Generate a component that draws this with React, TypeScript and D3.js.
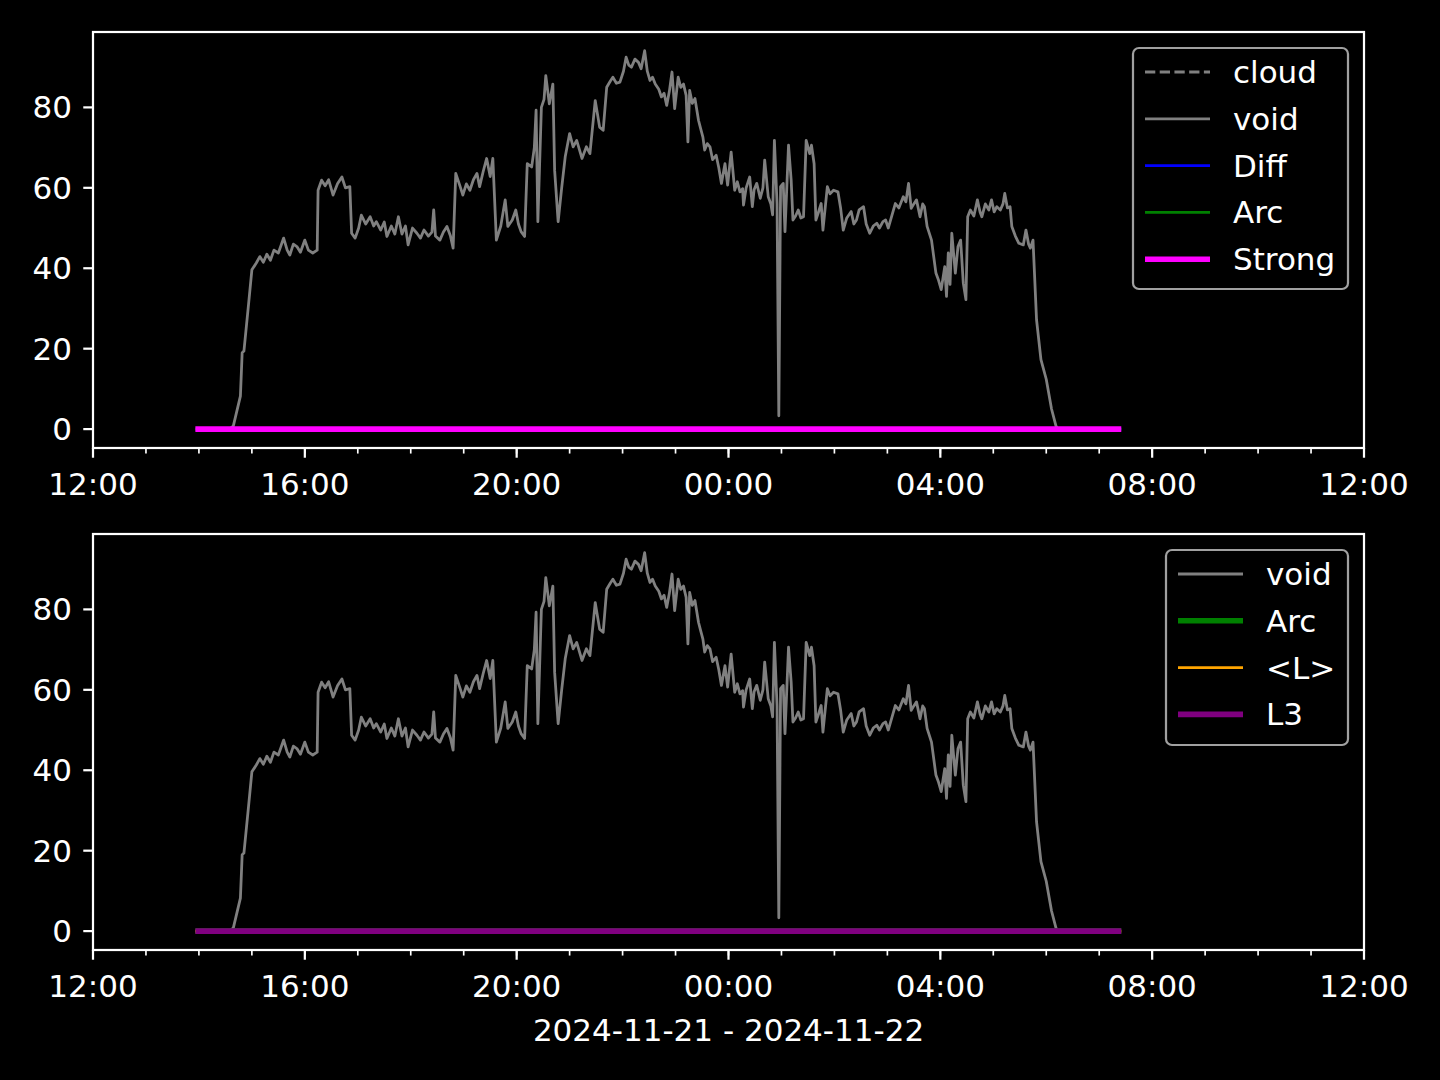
import React from "react";
import * as d3 from "d3";

// ---- data ----
const voidSeries: [string, number][] = [
  ["14:35", 0], ["14:39", 0.8], ["14:47", 8.2], ["14:49", 19], ["14:51", 19.4], ["14:56", 30.5],
  ["15:00", 39.6], ["15:05", 41.3], ["15:09", 42.9], ["15:13", 41.5], ["15:17", 43.5], ["15:21", 42],
  ["15:25", 44.5], ["15:30", 43.8], ["15:36", 47.5], ["15:40", 44.5], ["15:43", 43.3], ["15:47", 46],
  ["15:51", 45.4], ["15:55", 44], ["16:00", 47], ["16:04", 44.5], ["16:09", 43.8], ["16:14", 44.5],
  ["16:15", 59.4], ["16:19", 61.9], ["16:23", 60.5], ["16:27", 62], ["16:32", 58.2], ["16:37", 61],
  ["16:42", 62.7], ["16:46", 60], ["16:51", 60.3], ["16:53", 48.7], ["16:57", 47.5], ["17:01", 50],
  ["17:04", 53.2], ["17:09", 51], ["17:14", 52.8], ["17:18", 50.5], ["17:21", 51.6], ["17:26", 49.5],
  ["17:30", 51.5], ["17:33", 47.9], ["17:38", 50.5], ["17:42", 48.5], ["17:46", 52.8], ["17:50", 48.5],
  ["17:54", 50.5], ["17:57", 45.8], ["18:02", 50], ["18:07", 48.7], ["18:11", 47.5], ["18:15", 49.5],
  ["18:20", 48], ["18:24", 49], ["18:26", 54.5], ["18:28", 48], ["18:33", 47], ["18:37", 49],
  ["18:41", 50.4], ["18:45", 48], ["18:48", 45], ["18:51", 63.6], ["18:56", 60.3], ["18:59", 58.2],
  ["19:03", 61], ["19:07", 59.4], ["19:11", 62], ["19:15", 63.6], ["19:18", 60.3], ["19:22", 64],
  ["19:26", 67.3], ["19:30", 62.8], ["19:33", 67.3], ["19:37", 47], ["19:42", 50.5], ["19:47", 57],
  ["19:50", 50.4], ["19:55", 52], ["19:59", 54.5], ["20:02", 51], ["20:05", 49.1], ["20:09", 47.9],
  ["20:12", 66], ["20:17", 65.2], ["20:20", 70], ["20:22", 79.3], ["20:24", 51.6], ["20:28", 80],
  ["20:31", 82], ["20:33", 87.9], ["20:37", 80.9], ["20:41", 85.8], ["20:43", 64.4], ["20:47", 51.6],
  ["20:51", 60], ["20:55", 67.7], ["21:00", 73.5], ["21:04", 70.2], ["21:08", 71.8], ["21:14", 67.3],
  ["21:19", 70.2], ["21:23", 68.5], ["21:29", 81.7], ["21:34", 75.1], ["21:38", 74.3], ["21:42", 85],
  ["21:46", 86.5], ["21:49", 87.5], ["21:53", 86], ["21:57", 86.3], ["22:01", 89], ["22:04", 92.5],
  ["22:07", 90.5], ["22:10", 90], ["22:14", 92], ["22:18", 91.2], ["22:21", 89.6], ["22:25", 94.1],
  ["22:28", 89], ["22:31", 86.7], ["22:34", 87.5], ["22:37", 85.8], ["22:41", 84.5], ["22:44", 82.6],
  ["22:47", 83.5], ["22:50", 80.5], ["22:53", 84], ["22:56", 88.8], ["22:59", 79.7], ["23:03", 87.5],
  ["23:06", 85], ["23:09", 85.8], ["23:12", 83], ["23:14", 71.4], ["23:16", 84.2], ["23:19", 81],
  ["23:22", 82.2], ["23:26", 76.8], ["23:28", 75.1], ["23:31", 72.6], ["23:33", 69.4], ["23:36", 71],
  ["23:39", 70.2], ["23:42", 67], ["23:46", 68.1], ["23:49", 65], ["23:52", 61.1], ["23:56", 66],
  ["23:59", 60.7], ["00:03", 68.9], ["00:07", 59.4], ["00:10", 61.5], ["00:13", 59], ["00:16", 59.8],
  ["00:17", 55.7], ["00:20", 60], ["00:24", 62.7], ["00:27", 55.3], ["00:29", 59.5], ["00:32", 61.1],
  ["00:36", 57.4], ["00:39", 60], ["00:41", 66.9], ["00:45", 57.8], ["00:48", 56], ["00:50", 53.3],
  ["00:52", 71.8], ["00:55", 56.1], ["00:57", 3.3], ["00:59", 60.3], ["01:02", 61.1], ["01:04", 49.1],
  ["01:08", 70.6], ["01:11", 61.9], ["01:13", 52], ["01:16", 53], ["01:19", 54.5], ["01:22", 52.5],
  ["01:25", 52.8], ["01:28", 71.8], ["01:32", 68.5], ["01:34", 70.6], ["01:37", 66], ["01:39", 52],
  ["01:42", 54], ["01:45", 56.1], ["01:47", 49.5], ["01:52", 60.3], ["01:55", 58.5], ["01:59", 59.4],
  ["02:04", 59], ["02:07", 55], ["02:10", 49.5], ["02:14", 52.5], ["02:19", 54.1], ["02:22", 51],
  ["02:25", 52], ["02:28", 54.5], ["02:33", 55.3], ["02:36", 51], ["02:40", 48.7], ["02:44", 50.5],
  ["02:48", 51.2], ["02:51", 50], ["02:55", 51.6], ["02:58", 52], ["03:01", 50], ["03:05", 53],
  ["03:09", 56.1], ["03:13", 55], ["03:18", 57.8], ["03:21", 56.5], ["03:24", 61.1], ["03:27", 54.9],
  ["03:30", 56], ["03:33", 57], ["03:37", 52.8], ["03:40", 56], ["03:42", 55.3], ["03:45", 50.4],
  ["03:50", 47], ["03:55", 38.8], ["03:58", 37], ["04:01", 34.7], ["04:05", 40.4], ["04:07", 33],
  ["04:09", 43.8], ["04:11", 36], ["04:13", 48.7], ["04:17", 38.8], ["04:20", 45.4], ["04:23", 47],
  ["04:26", 36.3], ["04:29", 32.2], ["04:31", 52.8], ["04:34", 54.5], ["04:38", 53], ["04:42", 57],
  ["04:45", 54], ["04:47", 52.8], ["04:51", 56], ["04:55", 54.5], ["04:58", 57], ["05:01", 54],
  ["05:04", 55.3], ["05:08", 54.5], ["05:11", 56], ["05:13", 58.6], ["05:16", 55], ["05:19", 55.3],
  ["05:21", 50.4], ["05:25", 48], ["05:29", 46.2], ["05:34", 45.8], ["05:37", 49.5], ["05:40", 46],
  ["05:42", 45], ["05:45", 47], ["05:49", 27.2], ["05:54", 17.3], ["06:00", 12.4], ["06:06", 5],
  ["06:11", 0.8], ["06:13", 0],
];

// flat series (all zero over the observation window)
const flatSeries: [string, number][] = [["13:56", 0], ["07:25", 0]];

const xTickLabels = ["12:00", "16:00", "20:00", "00:00", "04:00", "08:00", "12:00"];
const yTicks = [0, 20, 40, 60, 80];
const xLabel = "2024-11-21 - 2024-11-22";

const topLegend = [
  { label: "cloud", color: "#808080", width: 1, dash: true },
  { label: "void", color: "#808080", width: 1, dash: false },
  { label: "Diff", color: "#0000ff", width: 1, dash: false },
  { label: "Arc", color: "#008000", width: 1, dash: false },
  { label: "Strong", color: "#ff00ff", width: 2, dash: false },
];
const bottomLegend = [
  { label: "void", color: "#808080", width: 1, dash: false },
  { label: "Arc", color: "#008000", width: 2, dash: false },
  { label: "<L>", color: "#ffa500", width: 1, dash: false },
  { label: "L3", color: "#800080", width: 2, dash: false },
];

// ---- helpers ----
const toDate = (s: string) => {
  const [h, m] = s.split(":").map(Number);
  return new Date(2024, 10, h < 12 ? 22 : 21, h, m);
};
const PT = 200 / 72;
const FONT = "DejaVu Sans, sans-serif";
const FS = 31;

const W = 1440;
const H = 1080;
const left = 93;
const right = 1364;

const x = d3
  .scaleTime()
  .domain([new Date(2024, 10, 21, 12, 0), new Date(2024, 10, 22, 12, 0)])
  .range([left, right]);

function Panel({ top, bottom, legend, legendBox, showZeroLines }: any) {
  const y = d3.scaleLinear().domain([-4.7, 98.75]).range([bottom, top]);
  const line = d3
    .line<[string, number]>()
    .x((d) => x(toDate(d[0])))
    .y((d) => y(d[1]));
  const majorTicks = x.ticks(d3.timeHour.every(4)!);
  const minorTicks = x.ticks(d3.timeHour.every(1)!);
  const fmt = d3.timeFormat("%H:%M");
  const spineW = 0.8 * PT;
  return (
    <g>
      {/* data */}
      <path d={line(voidSeries) || ""} fill="none" stroke="#808080" strokeWidth={1 * PT} strokeLinejoin="round" />
      {showZeroLines.map((s: any, i: number) => (
        <path key={i} d={line(flatSeries) || ""} fill="none" stroke={s.color} strokeWidth={s.width * PT} />
      ))}
      {/* spines */}
      <rect x={left} y={top} width={right - left} height={bottom - top} fill="none" stroke="#ffffff" strokeWidth={spineW} />
      {/* x ticks */}
      {minorTicks.map((t, i) => (
        <line key={"m" + i} x1={x(t)} x2={x(t)} y1={bottom} y2={bottom + 2 * PT} stroke="#fff" strokeWidth={0.6 * PT} />
      ))}
      {majorTicks.map((t, i) => (
        <g key={"M" + i}>
          <line x1={x(t)} x2={x(t)} y1={bottom} y2={bottom + 3.5 * PT} stroke="#fff" strokeWidth={spineW} />
          <text x={x(t)} y={bottom + 36} fill="#fff" fontFamily={FONT} fontSize={FS} textAnchor="middle" dominantBaseline="central">
            {xTickLabels[i] ?? fmt(t)}
          </text>
        </g>
      ))}
      {/* y ticks */}
      {yTicks.map((v) => (
        <g key={v}>
          <line x1={left - 3.5 * PT} x2={left} y1={y(v)} y2={y(v)} stroke="#fff" strokeWidth={spineW} />
          <text x={left - 21} y={y(v)} fill="#fff" fontFamily={FONT} fontSize={FS} textAnchor="end" dominantBaseline="central">
            {v}
          </text>
        </g>
      ))}
      {/* legend */}
      <rect
        x={legendBox.x}
        y={legendBox.y}
        width={legendBox.w}
        height={legendBox.h}
        rx={6}
        fill="#000"
        fillOpacity={0.8}
        stroke="#a0a0a0"
        strokeWidth={spineW}
      />
      {legend.map((e: any, i: number) => {
        const cy = legendBox.y + 24 + i * 46.8;
        return (
          <g key={e.label}>
            <line
              x1={legendBox.x + 12}
              x2={legendBox.x + 77}
              y1={cy}
              y2={cy}
              stroke={e.color}
              strokeWidth={e.width * PT}
              strokeDasharray={e.dash ? `${3.7 * PT} ${1.6 * PT}` : undefined}
            />
            <text x={legendBox.x + 100} y={cy} fill="#fff" fontFamily={FONT} fontSize={FS} dominantBaseline="central">
              {e.label}
            </text>
          </g>
        );
      })}
    </g>
  );
}

export default function App() {
  return (
    <svg width={W} height={H} style={{ position: "absolute", left: 0, top: 0, display: "block" }}>
      <rect x={0} y={0} width={W} height={H} fill="#000" />
      <Panel
        top={32}
        bottom={448}
        legend={topLegend}
        legendBox={{ x: 1133, y: 48, w: 215, h: 241 }}
        showZeroLines={[topLegend[2], topLegend[3], topLegend[4]]}
      />
      <Panel
        top={534}
        bottom={950}
        legend={bottomLegend}
        legendBox={{ x: 1166, y: 550, w: 182, h: 195 }}
        showZeroLines={[bottomLegend[1], bottomLegend[2], bottomLegend[3]]}
      />
      <text x={(left + right) / 2} y={1030} fill="#fff" fontFamily={FONT} fontSize={FS} textAnchor="middle" dominantBaseline="central">
        {xLabel}
      </text>
    </svg>
  );
}
